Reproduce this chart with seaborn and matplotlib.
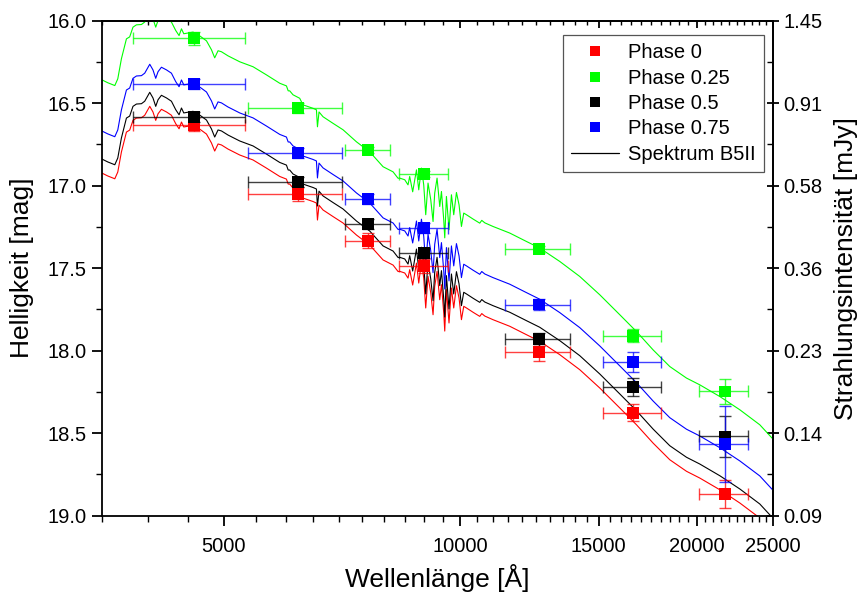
import numpy as np
import pandas as pd
import matplotlib
matplotlib.use("Agg")
import matplotlib.pyplot as plt
from matplotlib.lines import Line2D
from matplotlib.ticker import FixedLocator, NullFormatter
import seaborn as sns

# ---------------- data ----------------
phases = ["Phase 0", "Phase 0.25", "Phase 0.5", "Phase 0.75"]
phase_colors = ["#ff0000", "#00ff00", "#000000", "#0000ff"]

# photometric points (filter centre wavelength, half filter width)
band_wavelength = [4580, 6220, 7640, 9000, 12600, 16600, 21700]
band_halfwidth = [745, 850, 510, 640, 1200, 1400, 1550]

mag_phase0 = [16.63, 17.05, 17.333, 17.487, 18.01, 18.376, 18.87]
mag_phase025 = [16.107, 16.527, 16.784, 16.929, 17.385, 17.91, 18.247]
mag_phase05 = [16.585, 16.978, 17.234, 17.41, 17.93, 18.22, 18.52]
mag_phase075 = [16.385, 16.80, 17.08, 17.258, 17.72, 18.07, 18.565]

err_phase0 = [0.04, 0.04, 0.045, 0.04, 0.05, 0.053, 0.085]
err_phase025 = [0.04, 0.03, 0.02, 0.02, 0.02, 0.04, 0.078]
err_phase05 = [0.03, 0.03, 0.03, 0.03, 0.04, 0.056, 0.126]
err_phase075 = [0.03, 0.03, 0.03, 0.03, 0.034, 0.06, 0.23]

spec_wavelength = [
    3498, 3560, 3634, 3666, 3705, 3760, 3796, 3833, 3872, 3929, 3967, 4026,
    4064, 4097, 4125, 4166, 4228, 4290, 4344, 4387, 4418, 4448, 4571, 4661,
    4754, 4824, 4870, 4918, 4967, 5064, 5241, 5449, 5666, 5892, 6009, 6040,
    6067, 6126, 6247, 6308, 6497, 6561, 6581, 6611, 6689, 6888, 7093, 7378,
    7671, 7976, 8213, 8334, 8375, 8499, 8581, 8623, 8699, 8796, 8855, 8925,
    8985, 9038, 9099, 9172, 9234, 9279, 9343, 9417, 9464, 9528, 9556, 9603,
    9676, 9745, 9811, 9889, 9965, 10035, 10103, 10184, 10382, 10588, 10651,
    10745, 11007, 11561, 12141, 12623, 13385, 14192, 15050, 15959, 16760,
    17596, 18478, 19406, 20178, 21398, 22686, 24054, 24983,
]
spec_mag = [
    16.838, 16.856, 16.873, 16.832, 16.711, 16.590, 16.578, 16.519, 16.505,
    16.503, 16.488, 16.434, 16.468, 16.519, 16.479, 16.452, 16.468, 16.488,
    16.539, 16.570, 16.529, 16.559, 16.549, 16.572, 16.602, 16.656, 16.705,
    16.662, 16.668, 16.693, 16.729, 16.759, 16.808, 16.859, 16.875, 16.905,
    16.905, 16.929, 16.950, 16.990, 17.011, 17.020, 17.123, 17.033, 17.062,
    17.102, 17.141, 17.214, 17.275, 17.365, 17.396, 17.435, 17.434, 17.444,
    17.475, 17.424, 17.517, 17.384, 17.505, 17.373, 17.475, 17.656, 17.464,
    17.565, 17.697, 17.525, 17.434, 17.606, 17.515, 17.687, 17.796, 17.545,
    17.747, 17.535, 17.656, 17.521, 17.596, 17.727, 17.646, 17.656, 17.682,
    17.707, 17.690, 17.705, 17.727, 17.767, 17.818, 17.858, 17.939, 18.030,
    18.141, 18.262, 18.364, 18.475, 18.576, 18.646, 18.687, 18.758, 18.838,
    18.929, 19.014,
]
# vertical shift of the spectrum for each phase [mag]
spec_offset = [0.085, -0.48, 0.0, -0.17]

y_ticks = [16.0, 16.5, 17.0, 17.5, 18.0, 18.5, 19.0]
flux_labels = ["1.45", "0.91", "0.58", "0.36", "0.23", "0.14", "0.09"]
x_ticks = [5000, 10000, 15000, 20000, 25000]

# ---------------- tables ----------------
mags = [mag_phase0, mag_phase025, mag_phase05, mag_phase075]
errs = [err_phase0, err_phase025, err_phase05, err_phase075]
pts = pd.concat([
    pd.DataFrame({"wl": band_wavelength, "xerr": band_halfwidth, "mag": m,
                  "err": e, "phase": p})
    for p, m, e in zip(phases, mags, errs)
], ignore_index=True)
spec = pd.concat([
    pd.DataFrame({"wl": spec_wavelength,
                  "mag": np.array(spec_mag) + off, "phase": p})
    for p, off in zip(phases, spec_offset)
], ignore_index=True)
palette = dict(zip(phases, phase_colors))

# ---------------- plot ----------------
sns.set_style("ticks")
plt.rcParams["font.family"] = ["Liberation Sans", "DejaVu Sans"]
for k in ["text.color", "axes.labelcolor", "xtick.color", "ytick.color",
          "axes.edgecolor"]:
    plt.rcParams[k] = "black"

fig = plt.figure(figsize=(8.62, 5.97), dpi=100)
ax = fig.add_axes([0.1183, 0.1362, 0.7784, 0.8291])

sns.lineplot(data=spec, x="wl", y="mag", hue="phase", palette=palette,
             estimator=None, sort=False, linewidth=0.8, legend=False, ax=ax,
             zorder=2)

for p, c in zip(phases, phase_colors):
    d = pts[pts.phase == p]
    ax.errorbar(d.wl, d.mag, xerr=d.xerr, yerr=d.err, fmt="none",
                ecolor=c, elinewidth=1.0, capsize=4, capthick=1.0,
                alpha=0.75, zorder=3)
sns.scatterplot(data=pts, x="wl", y="mag", hue="phase", palette=palette,
                marker="s", s=72, linewidth=0, legend=False, ax=ax, zorder=4)

ax.set_xscale("log")
ax.set_xlim(3500, 25000)
ax.set_ylim(19.0, 16.0)

minor_x = [v for v in range(3500, 25001, 500) if v not in x_ticks]
ax.xaxis.set_major_locator(FixedLocator(x_ticks))
ax.xaxis.set_minor_locator(FixedLocator(minor_x))
ax.set_xticklabels([str(v) for v in x_ticks])
ax.xaxis.set_minor_formatter(NullFormatter())

minor_y = [16.25, 16.75, 17.25, 17.75, 18.25, 18.75]
ax.yaxis.set_major_locator(FixedLocator(y_ticks))
ax.yaxis.set_minor_locator(FixedLocator(minor_y))
ax.set_yticklabels([f"{v:.1f}" for v in y_ticks])

for s in ax.spines.values():
    s.set_linewidth(1.3)
    s.set_color("black")

ax.tick_params(axis="both", which="major", direction="out", length=7,
               width=1.3, labelsize=14.5, color="black", labelcolor="black",
               top=False, right=False)
ax.tick_params(axis="both", which="minor", direction="out", length=4,
               width=1.0, color="black", top=False, right=False)
ax.tick_params(axis="x", which="major", pad=8)
ax.tick_params(axis="y", which="major", pad=4)

# top axis: inward ticks, no labels
top = ax.secondary_xaxis("top")
top.xaxis.set_major_locator(FixedLocator(x_ticks))
top.xaxis.set_minor_locator(FixedLocator(minor_x))
top.xaxis.set_major_formatter(NullFormatter())
top.xaxis.set_minor_formatter(NullFormatter())
top.tick_params(which="major", direction="in", length=5, width=1.3,
                color="black")
top.tick_params(which="minor", direction="in", length=3, width=1.0,
                color="black")
top.spines["top"].set_linewidth(1.3)

# right axis: flux in mJy
right = ax.secondary_yaxis("right")
right.yaxis.set_major_locator(FixedLocator(y_ticks))
right.yaxis.set_minor_locator(FixedLocator(minor_y))
right.set_yticklabels(flux_labels)
right.tick_params(which="major", direction="inout", length=9, width=1.3,
                  labelsize=14.5, pad=3, color="black", labelcolor="black")
right.tick_params(which="minor", direction="in", length=4, width=1.0,
                  color="black")
right.spines["right"].set_linewidth(1.3)
right.set_ylabel("Strahlungsintensität [mJy]", fontsize=19, rotation=90,
                 labelpad=8, color="black")

ax.set_xlabel("Wellenlänge [Å]", fontsize=19, labelpad=6, color="black")
ax.set_ylabel("Helligkeit [mag]", fontsize=19, labelpad=10, color="black")

handles = [Line2D([], [], linestyle="none", marker="s", markersize=7,
                  markerfacecolor=c, markeredgewidth=0, label=p)
           for p, c in zip(phases, phase_colors)]
handles.append(Line2D([], [], color="black", linewidth=0.9,
                      label="Spektrum B5II"))
leg = ax.legend(handles=handles, loc="upper right", fontsize=14.5,
                frameon=True, fancybox=False, framealpha=1,
                edgecolor="#555555", borderpad=0.4, labelspacing=0.32,
                handlelength=2.4, handletextpad=0.45, borderaxespad=0,
                bbox_to_anchor=(0.9866, 0.971))
leg.get_frame().set_linewidth(0.9)
for t in leg.get_texts():
    t.set_color("black")

fig.savefig("out.png", dpi=100)
